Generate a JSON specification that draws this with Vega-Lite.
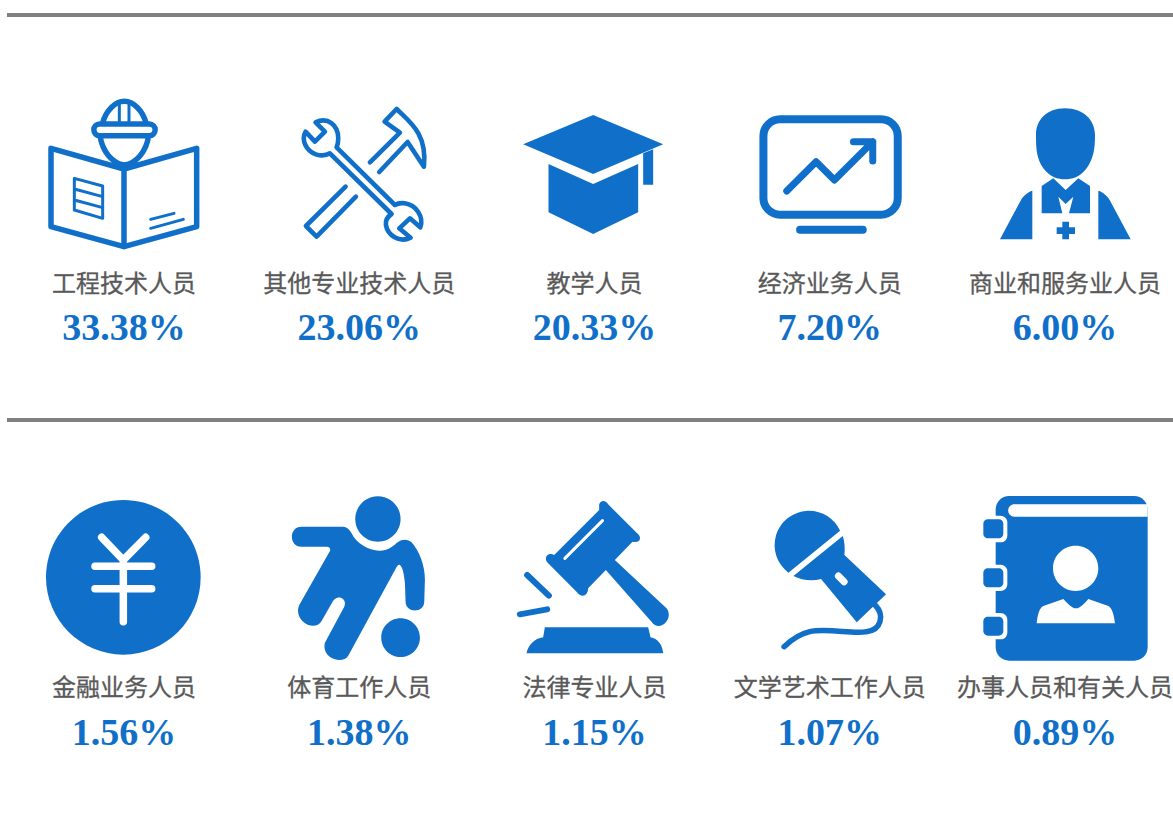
{
"$schema":"https://vega.github.io/schema/vega-lite/v6.json",
"width":1173,"height":818,"padding":0,
"autosize":{"type":"none"},
"background":"white",
"config":{"view":{"stroke":null}},
"data":{"values":[
{"job":"工程技术人员","share":0.3338,"row":0,"col":0},
{"job":"其他专业技术人员","share":0.2306,"row":0,"col":1},
{"job":"教学人员","share":0.2033,"row":0,"col":2},
{"job":"经济业务人员","share":0.0720,"row":0,"col":3},
{"job":"商业和服务业人员","share":0.0600,"row":0,"col":4},
{"job":"金融业务人员","share":0.0156,"row":1,"col":0},
{"job":"体育工作人员","share":0.0138,"row":1,"col":1},
{"job":"法律专业人员","share":0.0115,"row":1,"col":2},
{"job":"文学艺术工作人员","share":0.0107,"row":1,"col":3},
{"job":"办事人员和有关人员","share":0.0089,"row":1,"col":4}
]},
"encoding":{
"x":{"field":"col","type":"quantitative","axis":null,"scale":{"domain":[-0.5271,4.4591],"nice":false,"zero":false}},
"y":{"field":"row","type":"quantitative","axis":null,"scale":{"domain":[-0.03704,1.98272],"nice":false,"zero":false,"reverse":true}}
},
"layer":[
{"transform":[{"filter":{"field":"row","oneOf":[0,1]}},{"filter":{"field":"col","equal":0}}],
 "mark":{"type":"rule","color":"#808080","strokeWidth":4},
 "encoding":{"x":{"datum":-0.4975},"x2":{"datum":4.4591}}},
{"transform":[{"filter":{"field":"job","oneOf":["教学人员","商业和服务业人员","金融业务人员","体育工作人员","法律专业人员","文学艺术工作人员","办事人员和有关人员"]}}],
 "mark":{"type":"point","filled":true,"fill":"#1070c9","strokeWidth":0,"opacity":1,"size":0.44444444},
 "encoding":{
  "yOffset":{"value":155},
  "shape":{"field":"job","type":"nominal","legend":null,"scale":{
   "domain":["教学人员","商业和服务业人员","金融业务人员","体育工作人员","法律专业人员","文学艺术工作人员","办事人员和有关人员"],
   "range":[
   "M-4,-165L206,-77L-4,12L-214,-77ZM-138,-18L-4,42L131,-18L131,127L-4,192L-138,127ZM146,-50L176,-62L176,44L146,44Z",
   "M0,-185C55,-185 90,-150 90,-105C90,-60 85,-35 65,-5C45,22 20,28 0,28C-20,28 -45,22 -65,-5C-85,-35 -87,-60 -87,-105C-87,-150 -55,-185 0,-185ZM-70,48L-35,25L2,60L40,25L75,48L75,130L12,130L25,80L2,102L-20,80L-8,130L-70,130ZM-98,62L-98,208L-195,208L-132,90C-125,78 -112,66 -98,62ZM100,62L100,208L197,208L134,90C127,78 114,66 100,62ZM-25,172L-8,172L-8,155L12,155L12,172L30,172L30,192L12,192L12,208L-8,208L-8,192L-25,192Z",
   "M-234,7A232,232 0 1 1 230,7A232,232 0 1 1 -234,7Z",
   "M-12,-168A68,68 0 1 1 124,-168A68,68 0 1 1 -12,-168ZM66,188A58,58 0 1 1 182,188A58,58 0 1 1 66,188ZM-173,-145L-48,-145C-38,-145 -30,-138 -23,-125C-10,-95 30,-72 62,-73C85,-73 100,-85 112,-96C125,-108 145,-110 157,-98C180,-72 197,-30 197,15L195,80C195,115 139,115 139,80L137,25C135,0 130,-25 122,-30C118,-32 114,-28 110,-20L-33,242C-50,270 -115,250 -103,203L-45,95C-35,70 -65,55 -80,80L-113,138C-135,175 -200,135 -180,90L-88,-72C-85,-80 -90,-85 -97,-85L-173,-85C-212,-85 -212,-145 -173,-145Z",
   "M14,-195L14,-212C20,-225 32,-225 41,-212L131,-122C143,-110 135,-95 114,-100L61,-45L216,100C240,130 195,175 171,140L34,-15L-19,40C-20,65 -40,70 -54,50L-139,-35C-155,-50 -140,-70 -121,-60ZM-149,157L161,157L168,187C190,190 205,212 206,235L-204,235C-200,212 -180,190 -154,187Z",
   "M-124,-7A103,103 0 1 1 31,-133ZM-109,3L39,-117C45,-100 46,-80 44,-60L169,58L81,142L-26,12C-55,20 -85,15 -109,3Z",
   "M-168,-237L208,-237A40,40 0 0 1 248,-197L248,217A40,40 0 0 1 208,257L-168,257A40,40 0 0 1 -208,217L-208,-197A40,40 0 0 1 -168,-237Z"
   ]}}
 }},
{"transform":[{"filter":{"field":"job","oneOf":["工程技术人员","其他专业技术人员","经济业务人员"]}}],
 "mark":{"type":"point","filled":false,"stroke":"#1070c9","strokeCap":"round","strokeJoin":"round","opacity":1,"size":0.44444444},
 "encoding":{
  "yOffset":{"value":155},
  "strokeWidth":{"field":"job","type":"nominal","legend":null,"scale":{"type":"ordinal","domain":["工程技术人员","其他专业技术人员","经济业务人员"],"range":[5.5,4.6,8]}},
  "shape":{"field":"job","type":"nominal","legend":null,"scale":{
   "domain":["工程技术人员","其他专业技术人员","经济业务人员"],
   "range":[
   "M-219,-65L0,-3L218,-65L218,170L0,230L-219,170ZM0,-3L0,230M-73,-138L76,-138A17,17 0 0 1 76,-103L-73,-103A17,17 0 0 1 -73,-138ZM-65,-138C-55,-180 -25,-206 1,-206C27,-206 57,-180 67,-138M-72,-103C-65,-55 -35,-20 1,-15C37,-20 67,-55 74,-103",
   "M-131,-143C-95,-160 -63,-135 -63,-95C-63,-85 -65,-75 -68,-68L107,105C115,100 125,98 137,100C170,105 195,140 183,172L152,145L120,175L154,203C120,220 85,195 80,165C78,150 85,140 97,132L-88,-50C-100,-43 -115,-42 -130,-47C-160,-58 -175,-90 -161,-115L-133,-85L-103,-115ZM32,-23L122,-112L76,-145L112,-183C150,-145 205,-110 194,-10L145,-84L60,6M-41,50L-160,168L-128,200L-10,80",
   "M-149,-152L154,-152A50,50 0 0 1 204,-102L204,84A50,50 0 0 1 154,134L-149,134A50,50 0 0 1 -199,84L-199,-102A50,50 0 0 1 -149,-152ZM-89,179L99,179"
   ]}}
 }},
{"transform":[{"filter":{"field":"job","oneOf":["工程技术人员","经济业务人员","法律专业人员","文学艺术工作人员"]}}],
 "mark":{"type":"point","filled":false,"stroke":"#1070c9","strokeCap":"round","strokeJoin":"round","opacity":1,"size":0.44444444},
 "encoding":{
  "yOffset":{"value":155},
  "strokeWidth":{"field":"job","type":"nominal","legend":null,"scale":{"type":"ordinal","domain":["工程技术人员","经济业务人员","法律专业人员","文学艺术工作人员"],"range":[3,7,6,5.5]}},
  "shape":{"field":"job","type":"nominal","legend":null,"scale":{
   "domain":["工程技术人员","经济业务人员","法律专业人员","文学艺术工作人员"],
   "range":[
   "M-14,-205L-14,-138M15,-205L15,-138M-149,25L-64,48L-64,145L-149,120ZM-149,57L-64,80M-149,90L-64,113M80,148L150,130M80,175L178,148",
   "M-129,63L-41,-25L14,30L129,-85M71,-85L129,-85L129,-27",
   "M-202,0L-137,62M-224,118L-142,103",
   "M136,90C165,120 155,165 110,170C70,178 -10,158 -60,170C-95,178 -118,197 -137,215"
   ]}}
 }},
{"transform":[{"filter":{"field":"job","equal":"办事人员和有关人员"}}],
 "mark":{"type":"point","filled":true,"fill":"white","strokeWidth":0,"opacity":1,"size":0.44444444,
 "shape":"M-152,-212L248,-212L248,-175L-152,-175A18.5,18.5 0 0 1 -152,-212ZM-235,-178L-193,-178A20,20 0 0 1 -173,-158L-173,-118A20,20 0 0 1 -193,-98L-235,-98A20,20 0 0 1 -255,-118L-255,-158A20,20 0 0 1 -235,-178ZM-235,-31L-193,-31A20,20 0 0 1 -173,-11L-173,28A20,20 0 0 1 -193,48L-235,48A20,20 0 0 1 -255,28L-255,-11A20,20 0 0 1 -235,-31ZM-235,114L-193,114A20,20 0 0 1 -173,134L-173,173A20,20 0 0 1 -193,193L-235,193A20,20 0 0 1 -255,173L-255,134A20,20 0 0 1 -235,114ZM-36,-20A68,68 0 1 1 100,-20A68,68 0 1 1 -36,-20ZM-85,145C-82,120 -78,100 -65,93L-5,72C10,88 22,100 33,100C44,100 56,88 70,72L130,93C142,100 147,120 150,145Z"},
 "encoding":{"yOffset":{"value":155}}
 },
{"transform":[{"filter":{"field":"job","oneOf":["金融业务人员","法律专业人员","文学艺术工作人员"]}}],
 "mark":{"type":"point","filled":false,"stroke":"white","strokeCap":"round","strokeJoin":"round","opacity":1,"size":0.44444444},
 "encoding":{
  "yOffset":{"value":155},
  "strokeWidth":{"field":"job","type":"nominal","legend":null,"scale":{"type":"ordinal","domain":["金融业务人员","法律专业人员","文学艺术工作人员"],"range":[7.5,3,7]}},
  "shape":{"field":"job","type":"nominal","legend":null,"scale":{
   "domain":["金融业务人员","法律专业人员","文学艺术工作人员"],
   "range":[
   "M-67,-113L-2,-45L65,-113M-2,-45L-2,140M-87,-26L83,-26M-87,41L83,41",
   "M-89,-50L24,-163",
   "M26,3L43,20"
   ]}}
 }},
{"transform":[{"filter":{"field":"job","equal":"办事人员和有关人员"}}],
 "mark":{"type":"point","filled":true,"fill":"#1070c9","strokeWidth":0,"opacity":1,"size":0.44444444,
 "shape":"M-231,-167L-199,-167A14,14 0 0 1 -185,-153L-185,-124A14,14 0 0 1 -199,-110L-231,-110A14,14 0 0 1 -245,-124L-245,-153A14,14 0 0 1 -231,-167ZM-231,-20L-199,-20A14,14 0 0 1 -185,-6L-185,23A14,14 0 0 1 -199,37L-231,37A14,14 0 0 1 -245,23L-245,-6A14,14 0 0 1 -231,-20ZM-231,125L-199,125A14,14 0 0 1 -185,139L-185,168A14,14 0 0 1 -199,182L-231,182A14,14 0 0 1 -245,168L-245,139A14,14 0 0 1 -231,125Z"},
 "encoding":{"yOffset":{"value":155}}
 },
{"mark":{"type":"text","font":"Noto Sans CJK SC","fontSize":24,"fill":"#595959","stroke":"#595959","strokeWidth":0.3,"align":"center","baseline":"alphabetic","dy":276.5},
 "encoding":{"text":{"field":"job","type":"nominal"}}},
{"mark":{"type":"text","font":"Liberation Serif","fontWeight":"bold","fontSize":38,"color":"#1070c9","align":"center","baseline":"alphabetic","dy":325},
 "encoding":{"text":{"field":"share","type":"quantitative","format":".2%"}}}
],
"resolve":{"scale":{"shape":"independent","strokeWidth":"independent"}}
}
